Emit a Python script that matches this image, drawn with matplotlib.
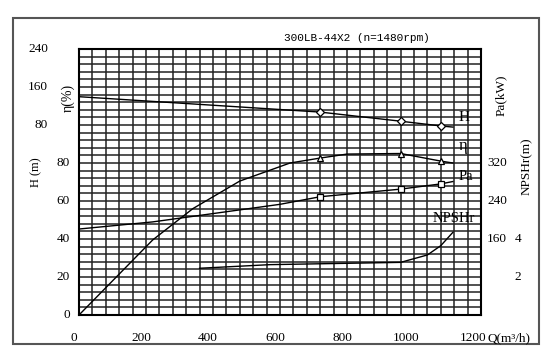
import matplotlib.pyplot as plt
from matplotlib.patches import Rectangle
import matplotlib.transforms as mtransforms

# pump curve data
q_h = [0, 720, 960, 1080, 1116]
h_m = [114.9, 106.8, 102.0, 99.5, 98.9]

q_eff = [0, 220, 340, 480, 630, 720, 800, 960, 1080, 1116]
eff = [0, 39.5, 56, 70.5, 80, 82.6, 84.7, 85.0, 81.0, 80.0]

q_pa = [0, 220, 600, 720, 960, 1080, 1116]
pa_kw = [181, 196, 233, 249, 265, 276, 281]

q_npsh = [360, 570, 960, 1040, 1080, 1116]
npsh = [2.46, 2.65, 2.77, 3.16, 3.65, 4.35]

q_marks = [720, 960, 1080]

x_ticks = [0, 200, 400, 600, 800, 1000, 1200]
h_ticks = [0, 20, 40, 60, 80]
eff_ticks = [80, 160, 240]
pa_ticks = [160, 240, 320]
npsh_ticks = [2, 4]

W, H = 551, 355
serif = 'Liberation Serif'

fig = plt.figure(figsize=(W / 100, H / 100), dpi=100)
ax = fig.add_axes([79 / W, 1 - 315 / H, 402 / W, 266 / H])

# outer frame
fig.patches.append(Rectangle((13 / W, 1 - 344 / H), 526 / W, 326 / H, transform=fig.transFigure,
                             fill=False, edgecolor='#555555', linewidth=1.5))

ax.set_xlim(0, 1200)
ax.set_ylim(0, 140)
ax.set_xticks(range(0, 1201, 40))
ax.set_yticks(range(0, 141, 4))
ax.tick_params(length=0, labelbottom=False, labelleft=False)
ax.grid(True, color='#222222', linewidth=1.1)
ax.set_axisbelow(True)
for s in ax.spines.values():
    s.set_linewidth(1.5)


# helper scales: everything drawn on the H axis
def pa2h(v):
    return v / 4.0


def npsh2h(v):
    return v * 10.0


def i_at(qs, ys, q):
    return ys[qs.index(q)]


lk = dict(color='black', linewidth=1.0)
ax.plot(q_h, h_m, **lk)
ax.plot(q_eff, eff, **lk)
ax.plot(q_pa, [pa2h(v) for v in pa_kw], **lk)
ax.plot(q_npsh, [npsh2h(v) for v in npsh], **lk)

mk = dict(linestyle='none', markerfacecolor='white', markeredgecolor='black', markeredgewidth=0.9)
ax.plot(q_marks, [i_at(q_h, h_m, q) for q in q_marks], marker='D', markersize=4, **mk)
ax.plot(q_marks, [i_at(q_eff, eff, q) for q in q_marks], marker='^', markersize=5, **mk)
ax.plot(q_marks, [pa2h(i_at(q_pa, pa_kw, q)) for q in q_marks], marker='s', markersize=5, **mk)

# curve names
ax.text(1133, 104, 'H', fontsize=11, family=serif, va='center', ha='left')
ax.text(1133, 89, 'η', fontsize=12, family=serif, va='center', ha='left')
ax.text(1132, 73, 'Pa', fontsize=10.5, family=serif, va='center', ha='left')
ax.text(1120, 51, 'NPSHr', fontsize=10.5, family=serif, va='center', ha='center')

# tick labels placed by hand like the original sheet
px = lambda p: p / W
bl = mtransforms.blended_transform_factory(fig.transFigure, ax.transData)
for t in x_ticks:
    off = -8 if t >= 1000 else -5
    ax.annotate(str(t), (t, 0), xytext=(off, -23), textcoords='offset pixels',
                ha='center', va='center', fontsize=9.5, family=serif)
for t in h_ticks:
    ax.text(px(70), t, str(t), transform=bl, ha='right', va='center', fontsize=9.5, family=serif)
for t in eff_ticks:
    ax.text(px(48), 80 + t / 4, str(t), transform=bl, ha='right', va='center', fontsize=9.5, family=serif)
for t in pa_ticks:
    ax.text(px(487), pa2h(t), str(t), transform=bl, ha='left', va='center', fontsize=9.5, family=serif)
for t in npsh_ticks:
    ax.text(px(518), npsh2h(t), str(t), transform=bl, ha='center', va='center', fontsize=9.5, family=serif)

fig.text(px(487), 1 - 338 / H, 'Q(m³/h)', ha='left', va='center', fontsize=9.5, family=serif)
fig.text(px(68), 1 - 98 / H, 'η(%)', rotation=90, ha='center', va='center', fontsize=10, family=serif)
fig.text(px(36), 1 - 172 / H, 'H (m)', rotation=90, ha='center', va='center', fontsize=9, family=serif)
fig.text(px(501), 1 - 95 / H, 'Pa(kW)', rotation=90, ha='center', va='center', fontsize=9.5, family=serif)
fig.text(px(527), 1 - 166 / H, 'NPSHr(m)', rotation=90, ha='center', va='center', fontsize=9.5, family=serif)
fig.text(px(357), 1 - 38 / H, '300LB-44X2 (n=1480rpm)', ha='center', va='center',
         fontsize=8, family='Liberation Mono')

fig.savefig('out.png', dpi=100, facecolor='white')
